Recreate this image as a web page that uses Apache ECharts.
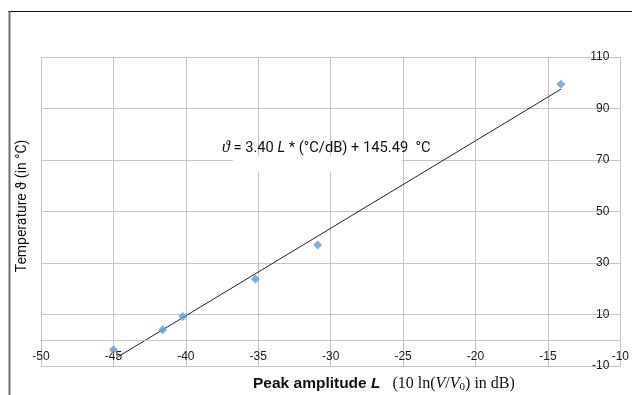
<!DOCTYPE html>
<html>
<head>
<meta charset="utf-8">
<script src="https://cdn.jsdelivr.net/npm/echarts@6/dist/echarts.min.js"></script>
<style>
  html, body { margin: 0; padding: 0; background: #fff; }
  #chart { width: 632px; height: 395px; }
</style>
</head>
<body>
<div id="chart"></div>
<script>
// measured points: peak amplitude L (dB) vs temperature (°C)
const amplitudes = [-45.0, -41.6, -40.2, -35.2, -30.9, -14.1];
const temperatures = [-3.7, 4.1, 9.2, 23.8, 37.0, 99.4];

// linear trend line end points
const trendPoints = [[-44.8, -6.8], [-14.1, 97.5]];

const yTicks = [-10, 10, 30, 50, 70, 90, 110];

const gridColor = '#c6c6c6';
const sans = 'Roboto, "Liberation Sans", sans-serif';
const arial = '"Liberation Sans", Arial, sans-serif';
const serif = '"Liberation Serif", "DejaVu Serif", serif';

const chart = echarts.init(document.getElementById('chart'));

chart.setOption({
  backgroundColor: '#fff',
  animation: false,
  grid: { left: 41, right: 10, top: 57, bottom: 29 },
  xAxis: {
    type: 'value',
    min: -50,
    max: -10,
    interval: 5,
    axisLine: { show: true, lineStyle: { color: gridColor } },
    axisTick: { show: false },
    axisLabel: { inside: true, margin: 3, color: '#1a1a1a', fontSize: 12, fontFamily: arial },
    splitLine: { show: true, lineStyle: { color: gridColor } }
  },
  yAxis: {
    type: 'value',
    position: 'right',
    min: -10,
    max: 110,
    axisLine: { show: true, lineStyle: { color: gridColor } },
    axisTick: { show: false, customValues: yTicks },
    axisLabel: { inside: true, margin: 11, color: '#1a1a1a', fontSize: 12, fontFamily: arial, customValues: yTicks },
    splitLine: { show: true, lineStyle: { color: gridColor } }
  },
  series: [
    {
      type: 'line',
      data: trendPoints,
      symbol: 'none',
      lineStyle: { color: '#222', width: 1 },
      z: 3,
      markLine: {
        silent: true,
        symbol: 'none',
        label: { show: false },
        lineStyle: { color: gridColor, type: 'solid', width: 1 },
        data: [{ yAxis: 0 }]
      }
    },
    {
      type: 'scatter',
      data: amplitudes.map((a, i) => [a, temperatures[i]]),
      symbol: 'diamond',
      symbolSize: 9,
      itemStyle: { color: '#5b9bd5' },
      z: 4
    }
  ],
  graphic: [
    // outer frame (top and left edge)
    { type: 'line', shape: { x1: 8, y1: 11.5, x2: 632, y2: 11.5 }, style: { stroke: '#111', lineWidth: 1 } },
    { type: 'line', shape: { x1: 9.5, y1: 11, x2: 9.5, y2: 395 }, style: { stroke: '#6f6f6f', lineWidth: 2 } },
    // white box under the equation label
    { type: 'rect', shape: { x: 233, y: 156, width: 169, height: 16 }, style: { fill: '#fff' }, z: 1 },
    {
      type: 'text',
      x: 222,
      y: 148,
      z: 5,
      style: {
        text: '{th|ϑ}{t| = 3.40 }{i|L}{t| * (°C/dB) + 145.49  °C}',
        verticalAlign: 'middle',
        rich: {
          th: { fontFamily: serif, fontStyle: 'italic', fontSize: 16, fill: '#111' },
          t: { fontFamily: sans, fontSize: 14.7, fill: '#111' },
          i: { fontFamily: sans, fontStyle: 'italic', fontSize: 14.7, fill: '#111' }
        }
      }
    },
    {
      type: 'text',
      x: 22,
      y: 206,
      rotation: Math.PI / 2,
      style: {
        text: 'Temperature ϑ (in °C)',
        align: 'center',
        verticalAlign: 'middle',
        fontFamily: sans,
        fontSize: 14,
        fill: '#111'
      }
    },
    {
      type: 'text',
      x: 253,
      y: 384,
      style: {
        text: '{b|Peak amplitude }{bi|L}{s|   (10 ln(}{si|V}{s|/}{si|V}{sub|0}{s|) in dB)}',
        verticalAlign: 'middle',
        rich: {
          b: { fontFamily: arial, fontWeight: 'bold', fontSize: 15.5, fill: '#111', lineHeight: 18 },
          bi: { fontFamily: arial, fontWeight: 'bold', fontStyle: 'italic', fontSize: 15.5, fill: '#111', lineHeight: 18 },
          s: { fontFamily: serif, fontSize: 16, fill: '#111', lineHeight: 18 },
          si: { fontFamily: serif, fontStyle: 'italic', fontSize: 16, fill: '#111', lineHeight: 18 },
          sub: { fontFamily: serif, fontSize: 11, fill: '#111', lineHeight: 11, verticalAlign: 'bottom' }
        }
      }
    }
  ]
});
</script>
</body>
</html>
